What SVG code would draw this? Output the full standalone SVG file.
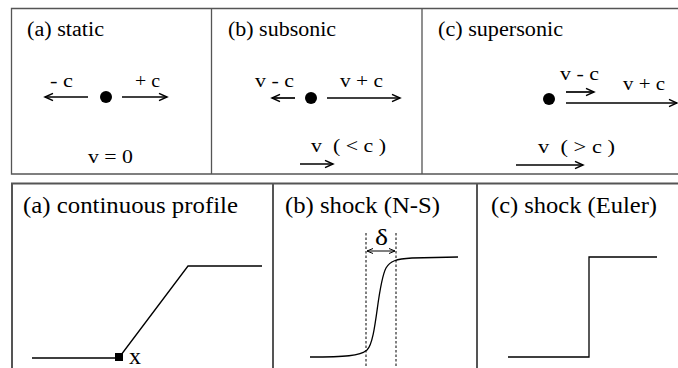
<svg xmlns="http://www.w3.org/2000/svg" width="678" height="368" viewBox="0 0 678 368">
<defs>
<marker id="ah" markerUnits="userSpaceOnUse" markerWidth="12" markerHeight="10" viewBox="-10 -5 12 10" refX="0" refY="0" orient="auto">
<path d="M-8,-3.6 L0,0 L-8,3.6" fill="none" stroke="#000" stroke-width="1.5"/>
</marker>
<marker id="sh" markerUnits="userSpaceOnUse" markerWidth="10" markerHeight="8" viewBox="-8 -4 10 8" refX="0" refY="0" orient="auto-start-reverse">
<path d="M-6,-2.5 L0,0 L-6,2.5" fill="none" stroke="#000" stroke-width="1"/>
</marker>
</defs>
<style>
text{font-family:"Liberation Serif","Times New Roman",Times,serif;fill:#000}
.t1{font-size:20.5px}
.lb{font-size:19.5px}
.t2{font-size:23.5px}
.frame{fill:none;stroke:#555;stroke-width:1.3}
.frame2{fill:none;stroke:#555;stroke-width:2}
.arr{stroke:#000;stroke-width:1.7;fill:none;marker-end:url(#ah)}
.crv{stroke:#000;stroke-width:1.3;fill:none}
.dash{stroke:#000;stroke-width:1;stroke-dasharray:2.5,2}
</style>
<rect width="678" height="368" fill="#fff"/>
<g id="frames">
<path class="frame" d="M678,8.5 H11.5 V174 H678 M211.5,8.5 V174 M422,8.5 V174"/>
<path class="frame2" d="M678,183.5 H12 V368 M273,183.5 V368 M477,183.5 V368"/>
</g>
<g id="panel-a-static">
<text class="t1" x="27" y="36" textLength="77" lengthAdjust="spacingAndGlyphs">(a) static</text>
<circle cx="106" cy="97" r="6" fill="#000"/>
<text class="lb" x="50" y="87" textLength="23" lengthAdjust="spacingAndGlyphs">- c</text>
<text class="lb" x="135" y="87" textLength="25" lengthAdjust="spacingAndGlyphs">+ c</text>
<text class="lb" x="88" y="163" textLength="45" lengthAdjust="spacingAndGlyphs">v = 0</text>
</g>
<g id="panel-b-subsonic">
<text class="t1" x="228" y="36" textLength="108" lengthAdjust="spacingAndGlyphs">(b) subsonic</text>
<circle cx="311" cy="98" r="6" fill="#000"/>
<text class="lb" x="255" y="87" textLength="39" lengthAdjust="spacingAndGlyphs">v - c</text>
<text class="lb" x="340" y="87" textLength="43" lengthAdjust="spacingAndGlyphs">v + c</text>
<text class="lb" x="311" y="152" textLength="75" lengthAdjust="spacingAndGlyphs" xml:space="preserve">v  ( &lt; c )</text>
</g>
<g id="panel-c-supersonic">
<text class="t1" x="438" y="36" textLength="125" lengthAdjust="spacingAndGlyphs">(c) supersonic</text>
<circle cx="549" cy="99" r="6" fill="#000"/>
<text class="lb" x="560" y="80" textLength="39" lengthAdjust="spacingAndGlyphs">v - c</text>
<text class="lb" x="623" y="90" textLength="42" lengthAdjust="spacingAndGlyphs">v + c</text>
<text class="lb" x="538" y="153" textLength="77" lengthAdjust="spacingAndGlyphs" xml:space="preserve">v  ( &gt; c )</text>
</g>
<g id="connectors">
<line class="arr" x1="88" y1="97" x2="45" y2="97"/>
<line class="arr" x1="122" y1="97" x2="167" y2="97"/>
<line class="arr" x1="295" y1="98" x2="272" y2="98"/>
<line class="arr" x1="327" y1="98" x2="400" y2="98"/>
<line class="arr" x1="300" y1="164" x2="333" y2="164"/>
<line class="arr" x1="566" y1="92" x2="594" y2="92"/>
<line class="arr" x1="566" y1="103" x2="677" y2="103"/>
<line class="arr" x1="516" y1="165" x2="583" y2="165"/>
</g>
<g id="profile-a-continuous">
<text class="t2" x="23" y="213" textLength="215" lengthAdjust="spacingAndGlyphs">(a) continuous profile</text>
<path class="crv" d="M32,358 H117 M121,355 L188,266 H262"/>
<rect x="115" y="353" width="8" height="8" fill="#000"/>
<text class="t2" x="129" y="364" textLength="12" lengthAdjust="spacingAndGlyphs">x</text>
</g>
<g id="profile-b-shock-ns">
<text class="t2" x="285" y="213" textLength="155" lengthAdjust="spacingAndGlyphs">(b) shock (N-S)</text>
<line class="dash" x1="366" y1="233" x2="366" y2="368"/>
<line class="dash" x1="396" y1="233" x2="396" y2="368"/>
<text class="t2" x="375" y="245" textLength="13" lengthAdjust="spacingAndGlyphs">δ</text>
<line x1="367" y1="251" x2="395" y2="251" stroke="#000" stroke-width="1" marker-start="url(#sh)" marker-end="url(#sh)"/>
<path class="crv" d="M310,357 C345,357 360,356 367,350 C377,340 377,285 386,268 C390,261 396,259 412,258 L458,257"/>
</g>
<g id="profile-c-shock-euler">
<text class="t2" x="491" y="213" textLength="166" lengthAdjust="spacingAndGlyphs">(c) shock (Euler)</text>
<path class="crv" d="M508,357 H589 V257 H657"/>
</g>
</svg>
